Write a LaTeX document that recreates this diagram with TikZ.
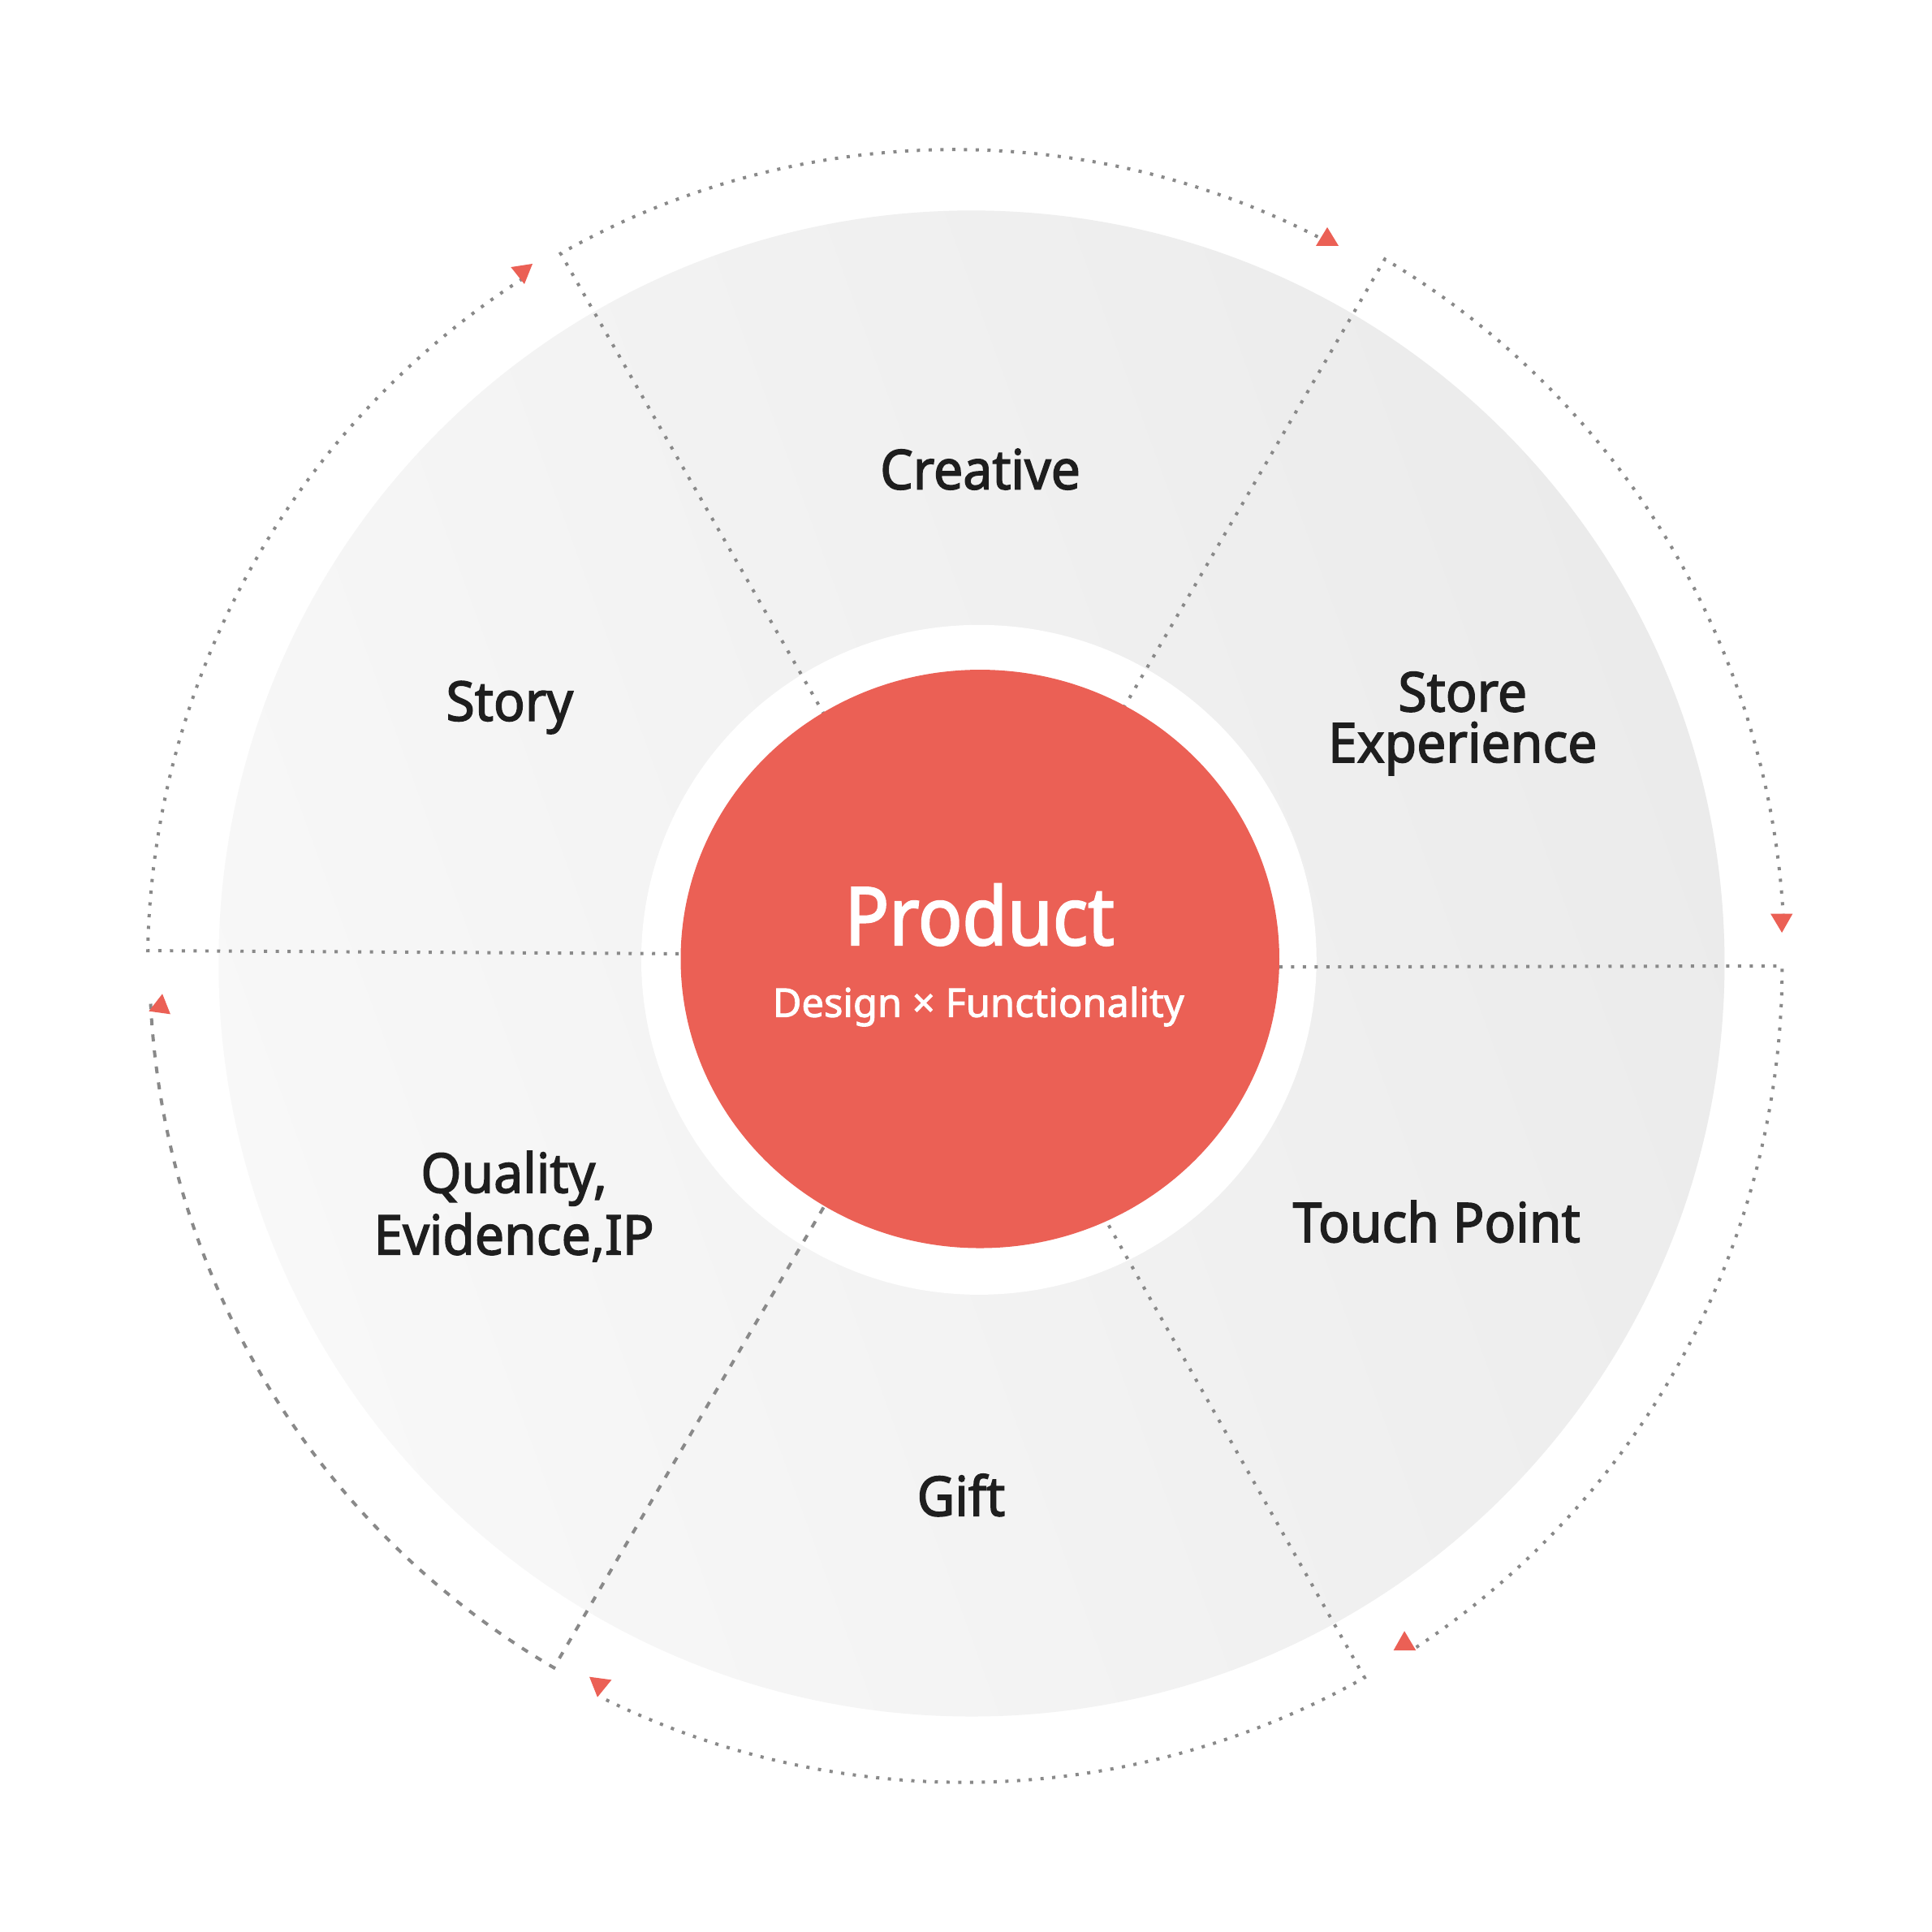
\documentclass[tikz,border=0pt]{standalone}
\usepackage{fontspec}
\newfontfamily\labfont{Noto Sans}[FakeBold=2.2, FakeStretch=0.95]
\newfontfamily\prodfont{Noto Sans}[FakeBold=2.2, FakeStretch=0.91]
\newfontfamily\subfont{Noto Sans}[FakeBold=2.0]
\definecolor{redc}{HTML}{EB6055}
\definecolor{dotc}{HTML}{898989}
\definecolor{txt}{HTML}{1E1E1E}
\definecolor{diskL}{HTML}{F8F8F8}
\definecolor{diskR}{HTML}{EBEBEB}
\tikzset{
  dotline/.style={draw=dotc, line width=0.74pt, dash pattern=on 0.74pt off 1.96pt},
  dashline/.style={draw=dotc, line width=0.74pt, dash pattern=on 1.6pt off 2.1pt},
  tip/.style={fill=redc, draw=none},
  lab/.style={text=txt, font=\labfont\fontsize{12.6}{14.2}\selectfont, inner sep=0pt, align=center, anchor=base},
  labtight/.style={lab, font=\labfont\fontsize{12.6}{11.66}\selectfont},
}
\begin{document}
\begin{tikzpicture}[x=0.01cm,y=0.01cm]
\useasboundingbox (0,0) rectangle (1560,1560);
\fill[white] (0,0) rectangle (1560,1560);
% grey disk
\shade[top color=diskR, bottom color=diskL, shading angle=-70] (784.5,782) circle[radius=608];
% white ring
\fill[white] (790.4,785) ellipse[x radius=272.6, y radius=270.4];
% radial lines and outer arcs
\coordinate (o1) at (452.7,1355.3); \coordinate (i1) at (750.4,834.5);
\coordinate (o2) at (1118.2,1350.7); \coordinate (i2) at (816.4,832.3);
\coordinate (o3) at (1439,780); \coordinate (i3) at (900,779);
\coordinate (o4) at (1101.8,205.4); \coordinate (i4) at (806.4,727.6);
\coordinate (o5) at (447.2,213.4); \coordinate (i5) at (750.5,731);
\coordinate (o6) at (119.3,792.4); \coordinate (i6) at (700,789);
\draw[dotline] (i1) -- (o1) arc[start angle=119.56, end angle=62.3, radius=645];
\draw[dotline] (i2) -- (o2) arc[start angle=59.27, end angle=2.6, radius=660];
\draw[dotline] (i3) -- (o3) arc[start angle=0, end angle=-56.6, radius=660];
\draw[dotline] (i4) -- (o4) arc[start angle=-60.67, end angle=-116.5, radius=660];
\draw[dashline] (i5) -- (o5) arc[start angle=-120.36, end angle=-177.1, radius=660];
\draw[dotline] (i6) -- (o6) arc[start angle=178.92, end angle=122.49, radius=660];
% arrow tips
\fill[tip] (1071.7,1376.5) -- (1062.5,1361.4) -- (1080.9,1361.4) -- cycle;
\fill[tip] (1429.6,822.2) -- (1447.5,822.2) -- (1438.8,806.9) -- cycle;
\fill[tip] (1134,243) -- (1125.2,227.4) -- (1143.3,227.4) -- cycle;
\fill[tip] (475.9,206) -- (493.8,203.6) -- (482.4,189.6) -- cycle;
\fill[tip] (131.1,757.5) -- (120.2,743.5) -- (137.6,741.1) -- cycle;
\fill[tip] (412.5,1344.3) -- (430,1347) -- (423.4,1330.6) -- cycle;
% product circle
\fill[redc] (791.3,785.7) ellipse[x radius=241.7, y radius=233.5];
% labels
\node[lab] (creative) at (791.5,1165) {Creative};
\node[lab] (story) at (411.5,978) {Story};
\node[labtight] (store) at (1181,944.5) {Store\\Experience};
\node[lab] (touch) at (1160,557) {Touch Point};
\node[lab] (gift) at (776,336) {Gift};
\node[lab] (quality) at (415,547) {Quality,\\Evidence,IP};
\node[anchor=base, inner sep=0pt, text=white, font=\prodfont\fontsize{18.5}{20}\selectfont] (product) at (791,797) {Product};
\node[anchor=base, inner sep=0pt, text=white, font=\subfont\fontsize{9.1}{10}\selectfont] (design) at (790,738.9) {Design × Functionality};
\end{tikzpicture}
\end{document}
